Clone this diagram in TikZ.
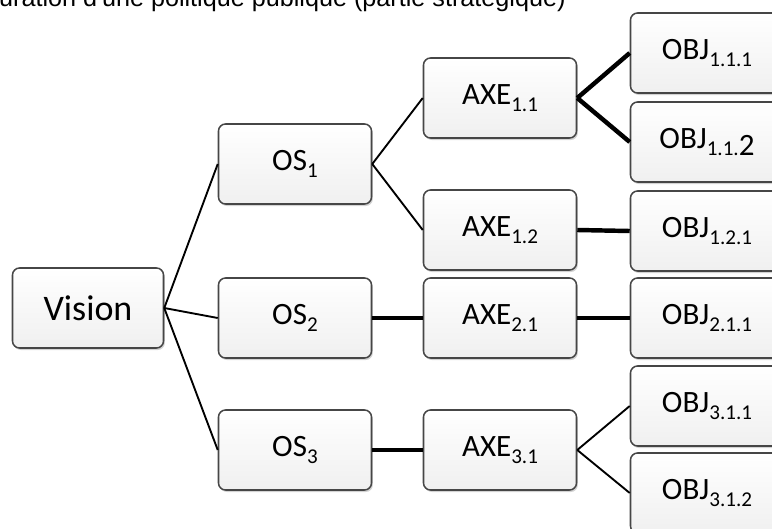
\documentclass[tikz,border=0pt]{standalone}
\usepackage{fontspec}
\setmainfont{Carlito}
\newfontfamily\titrefont{Liberation Sans}
\usepackage{tikz}
\usetikzlibrary{shadows}

% indice abaissé, en petit corps
\newcommand{\idx}[1]{\raisebox{-0.22em}{\fontsize{18}{18}\selectfont #1}}

\begin{document}
\begin{tikzpicture}[
        x=0.03cm, y=-0.03cm, % une unité = un point de l'image
        boite/.style={draw=gray!55!black, line width=1.3pt, rounded corners=6pt,
            top color=white, bottom color=gray!12,
            minimum width=4.59cm, minimum height=2.4cm, inner sep=0pt,
            drop shadow={opacity=0.35, shadow xshift=0.4mm, shadow yshift=-0.6mm},
            font=\fontsize{26.5}{30}\selectfont}, % Style des cases
        lien/.style={line width=1.6pt}, % Trait fin
        lienfort/.style={line width=3.8pt} % Trait épais
    ]
        \useasboundingbox (0,0) rectangle (772,529);

        % --- Titre (coupé en haut) ---
        \node[anchor=base west, inner sep=0pt, font=\titrefont\fontsize{21.5}{24}\selectfont] (titre) at (-1,6) {uration d'une politique publique (partie stratégique)};

        % --- Vision et objectifs stratégiques ---
        \node[boite, minimum width=4.53cm, font=\fontsize{30.7}{34}\selectfont] (vision) at (88,308) {Vision};
        \node[boite] (os1) at (295,164) {OS\idx{1}};
        \node[boite] (os2) at (295,318) {OS\idx{2}};
        \node[boite] (os3) at (295,450) {OS\idx{3}};

        % --- Axes ---
        \node[boite] (axe11) at (500,98) {AXE\idx{1.1}};
        \node[boite] (axe12) at (500,230) {AXE\idx{1.2}};
        \node[boite] (axe21) at (500,318) {AXE\idx{2.1}};
        \node[boite] (axe31) at (500,450) {AXE\idx{3.1}};

        % --- Objectifs opérationnels ---
        \node[boite] (obj111) at (707,53) {OBJ\idx{1.1.1}};
        \node[boite] (obj112) at (707,142) {OBJ\idx{1.1.}\raisebox{-0.22em}{2}};
        \node[boite] (obj121) at (707,231) {OBJ\idx{1.2.1}};
        \node[boite] (obj211) at (707,318) {OBJ\idx{2.1.1}};
        \node[boite] (obj311) at (707,406) {OBJ\idx{3.1.1}};
        \node[boite] (obj312) at (707,493) {OBJ\idx{3.1.2}};

        % --- Liens ---
        \draw[lien] (vision.east) -- (os1.west);
        \draw[lien] (vision.east) -- (os2.west);
        \draw[lien] (vision.east) -- (os3.west);
        \draw[lien] (os1.east) -- (axe11.west);
        \draw[lien] (os1.east) -- (axe12.west);
        \draw[lienfort] (os2.east) -- (axe21.west);
        \draw[lienfort] (os3.east) -- (axe31.west);
        \draw[lienfort] (axe11.east) -- (obj111.west);
        \draw[lienfort] (axe11.east) -- (obj112.west);
        \draw[lienfort] (axe12.east) -- (obj121.west);
        \draw[lienfort] (axe21.east) -- (obj211.west);
        \draw[lien] (axe31.east) -- (obj311.west);
        \draw[lien] (axe31.east) -- (obj312.west);
    \end{tikzpicture}
\end{document}
